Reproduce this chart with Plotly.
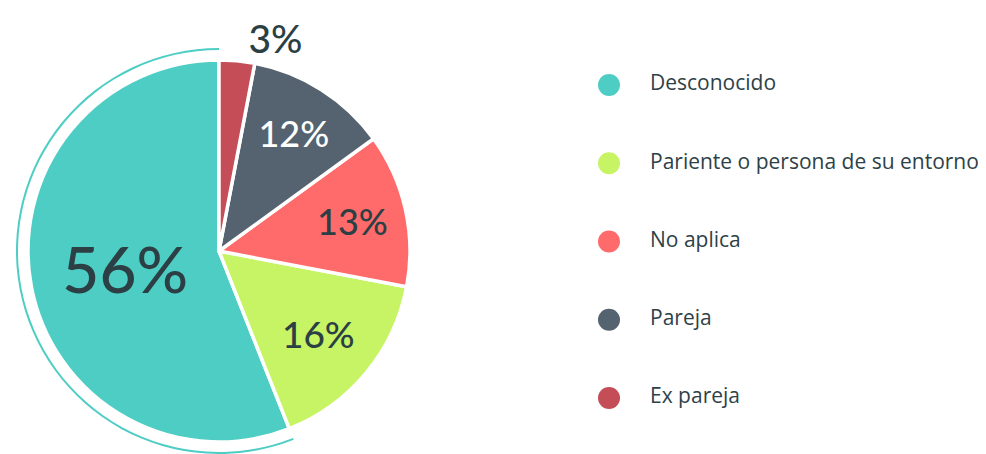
import plotly.graph_objects as go

categories = ["Desconocido", "Pariente o persona de su entorno", "No aplica", "Pareja", "Ex pareja"]
values = [56, 16, 13, 12, 3]
colors = ["#4ECDC4", "#C7F464", "#FF6B6B", "#556270", "#C44D58"]
label_sizes = [64, 37, 36, 36, 39]
label_colors = ["#2b3f44", "#2b3f44", "#2b3f44", "#ffffff", "#2b3f44"]
label_positions = ["inside", "inside", "inside", "inside", "outside"]

OFF = 8                        # default page body margin
W, H = 986 - OFF, 454 - OFF
cx, cy_top = 219 - OFF, 251 - OFF   # pie centre in figure pixels
r_pie = 191
r_ring = 203
cy = H - cy_top

# first slice runs counter-clockwise from 12 o'clock
rotation = 360 - 360 * values[0] / sum(values)

fig = go.Figure()

ring_colors = [colors[0]] + ["rgba(0,0,0,0)"] * (len(values) - 1)
fig.add_trace(go.Pie(
    labels=categories, values=values, sort=False, direction="counterclockwise",
    rotation=rotation, hole=1 - 2.0 / r_ring,
    marker=dict(colors=ring_colors, line=dict(width=0)),
    textinfo="none", hoverinfo="skip", showlegend=False, automargin=False,
    domain=dict(x=[(cx - r_ring) / W, (cx + r_ring) / W],
                y=[max(0, (cy - r_ring) / H), (cy + r_ring) / H]),
))

fig.add_trace(go.Pie(
    labels=categories, values=values, sort=False, direction="counterclockwise",
    rotation=rotation, automargin=False,
    marker=dict(colors=colors, line=dict(color="#ffffff", width=3.5)),
    texttemplate="%{value}%", textposition=label_positions,
    insidetextorientation="horizontal",
    textfont=dict(family="Lato", size=label_sizes, color=label_colors, weight=500),
    showlegend=False,
    domain=dict(x=[(cx - r_pie) / W, (cx + r_pie) / W],
                y=[(cy - r_pie) / H, (cy + r_pie) / H]),
))

# custom legend
idx = list(range(len(categories)))
first_y, step = 85 - OFF, 78.25
fig.add_trace(go.Scatter(
    x=[0] * len(categories), y=idx, mode="markers",
    marker=dict(size=22, color=colors, line=dict(width=0)),
    hoverinfo="skip", showlegend=False, cliponaxis=False,
))
fig.add_trace(go.Scatter(
    x=[1] * len(categories), y=idx, mode="text", text=categories,
    textposition="middle right",
    textfont=dict(family="Open Sans", size=21, color="#2e4147"),
    hoverinfo="skip", showlegend=False, cliponaxis=False,
))

fig.update_layout(
    width=W, height=H,
    margin=dict(l=0, r=0, t=0, b=0, pad=0, autoexpand=False),
    paper_bgcolor="#ffffff", plot_bgcolor="rgba(0,0,0,0)",
    xaxis=dict(domain=[(609 - OFF) / W, (650 - OFF) / W], range=[0, 1],
               visible=False, fixedrange=True),
    yaxis=dict(domain=[0, 1], range=[(H - first_y) / step, -first_y / step],
               visible=False, fixedrange=True),
)

fig.write_html("out.html")
